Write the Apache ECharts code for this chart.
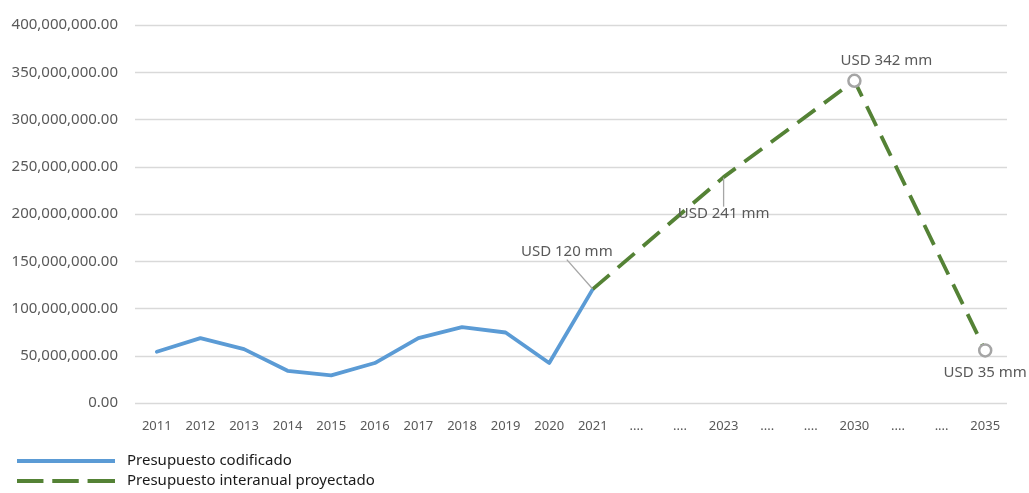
<!DOCTYPE html>
<html>
<head>
<meta charset="utf-8">
<script src="https://cdn.jsdelivr.net/npm/echarts@6/dist/echarts.min.js"></script>
<style>
html,body{margin:0;padding:0;background:#fff;}
#chart{width:1029px;height:493px;}
</style>
</head>
<body>
<div id="chart"></div>
<script>
const categories = ['2011','2012','2013','2014','2015','2016','2017','2018','2019','2020','2021','....','....','2023','....','....','2030','....','....','2035'];
const codificado = [54.2e6, 68.7e6, 57e6, 34.1e6, 29.2e6, 42.3e6, 68.7e6, 80.3e6, 74.6e6, 42.3e6, 120.5e6, null, null, null, null, null, null, null, null, null];
const proyectado = [null, null, null, null, null, null, null, null, null, null, 120.5e6, null, null, 239e6, null, null, 341e6, null, null, 55.6e6];
const pointLabels = {10: 'USD 120 mm', 13: 'USD 241 mm', 16: 'USD 342 mm', 19: 'USD 35 mm'};
const seriesNames = ['Presupuesto codificado', 'Presupuesto interanual proyectado'];
const yTicks = {min: 0, max: 400e6, interval: 50e6};

const FONT = 'Noto Sans';
const TXT = '#595959';
const markerIdx = [16, 19];

const chart = echarts.init(document.getElementById('chart'), null, {renderer: 'canvas'});

const labelPos = {10: 'top', 13: 'bottom', 16: 'top', 19: 'bottom'};
const showLeader = {10: true, 13: true, 16: false, 19: false};

const greenData = proyectado.map((v, i) => {
  if (v == null) return null;
  const isMarker = markerIdx.indexOf(i) >= 0;
  return {
    value: v,
    symbol: 'circle',
    symbolSize: isMarker ? 12 : 1,
    itemStyle: isMarker ? {color: '#ffffff', borderColor: '#a5a5a5', borderWidth: 2.5} : {color: 'rgba(0,0,0,0)', borderWidth: 0},
    label: {show: true, formatter: pointLabels[i], position: labelPos[i]},
    labelLine: {show: showLeader[i]}
  };
});

const layoutShift = {10: [-26, -24], 13: [0, 24], 16: [32, 0], 19: [0, 3]};

chart.setOption({
  animation: false,
  backgroundColor: '#ffffff',
  textStyle: {fontFamily: FONT},
  grid: {left: 135, right: 22, top: 25, bottom: 90, containLabel: false},
  xAxis: {
    type: 'category',
    data: categories,
    boundaryGap: true,
    axisLine: {show: false},
    axisTick: {show: false},
    axisLabel: {color: TXT, fontFamily: FONT, fontSize: 13, margin: 17, interval: 0}
  },
  yAxis: {
    type: 'value',
    min: yTicks.min, max: yTicks.max, interval: yTicks.interval,
    axisLine: {show: false},
    axisTick: {show: false},
    splitLine: {lineStyle: {color: '#d9d9d9', width: 1.3}},
    axisLabel: {
      color: TXT, fontFamily: FONT, fontSize: 15, margin: 17,
      formatter: v => v.toLocaleString('en-US', {minimumFractionDigits: 2, maximumFractionDigits: 2})
    }
  },
  legend: {
    orient: 'vertical',
    left: 17, top: 453, height: 40,
    padding: 0,
    itemWidth: 98, itemHeight: 4, itemGap: 4,
    textStyle: {color: '#1a1a1a', fontFamily: FONT, fontSize: 15, lineHeight: 16, padding: [0, 0, 0, 7]},
    data: [
      {name: seriesNames[0], icon: 'path://M0,0H100V4H0Z'},
      {name: seriesNames[1], icon: 'path://M0,0H27V4H0ZM36,0H63V4H36ZM72,0H100V4H72Z'}
    ]
  },
  series: [
    {
      name: seriesNames[0],
      type: 'line',
      data: codificado,
      symbol: 'none',
      showSymbol: false,
      color: '#5b9bd5',
      lineStyle: {color: '#5b9bd5', width: 3.8, cap: 'round', join: 'round'},
      z: 3
    },
    {
      name: seriesNames[1],
      type: 'line',
      data: greenData,
      connectNulls: true,
      color: '#548235',
      lineStyle: {color: '#548235', width: 3.8, type: [22, 11]},
      label: {color: TXT, fontFamily: FONT, fontSize: 15, distance: 5},
      labelLine: {show: true, lineStyle: {color: '#a6a6a6', width: 1.3}},
      labelLayout: p => {
        const s = layoutShift[p.dataIndex];
        return s ? {dx: s[0], dy: s[1]} : {};
      },
      z: 4
    }
  ]
});
</script>
</body>
</html>
